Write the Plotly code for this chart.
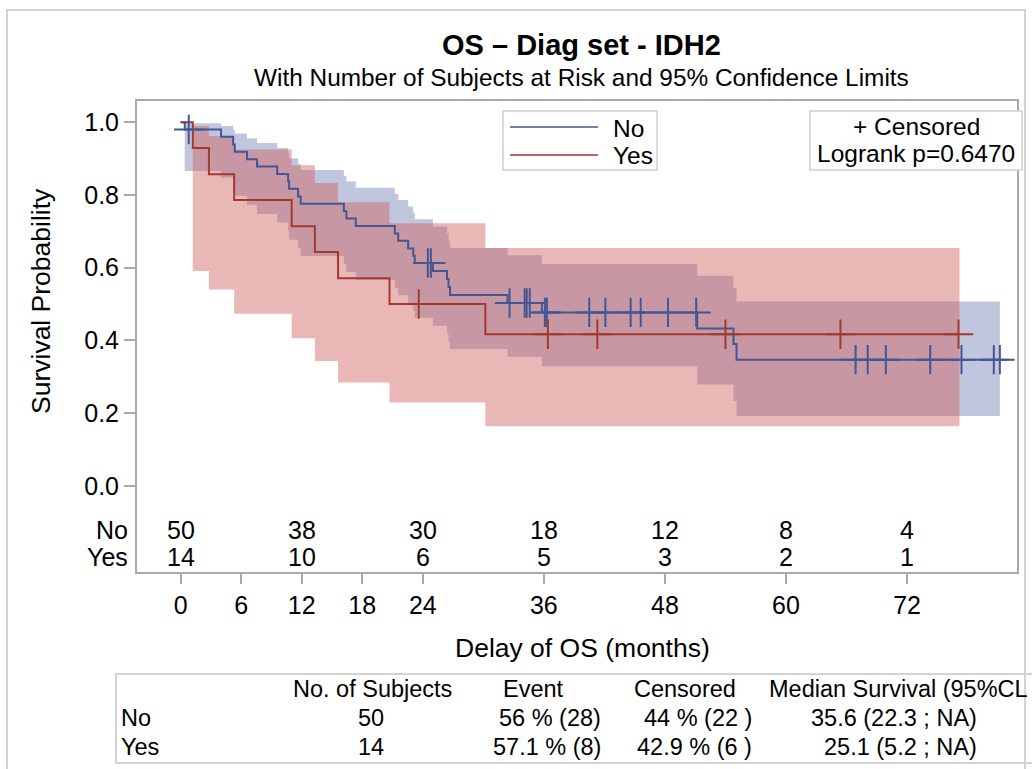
import plotly.graph_objects as go

# ---------------- data ----------------
# Kaplan-Meier step curve, group "No"
no_time = [0, 0.4, 4.0, 5.2, 5.36, 6.58, 7.57, 9.56, 10.65, 10.75, 11.64, 11.9, 16.17, 16.43,
           17.36, 21.23, 21.56, 22.55, 23.05, 23.2, 25.0, 26.4, 26.55, 26.7, 32.4, 35.8,
           51.2, 54.8, 55.1, 81.2]
no_surv = [1.0, 0.980, 0.960, 0.939, 0.919, 0.898, 0.878, 0.858, 0.837, 0.817, 0.796, 0.776,
           0.755, 0.735, 0.715, 0.694, 0.674, 0.653, 0.633, 0.613, 0.591, 0.569, 0.547, 0.525,
           0.503, 0.477, 0.433, 0.390, 0.347, 0.347]
# 95% confidence band, group "No"
no_band_time = [0.4, 4.0, 5.2, 5.36, 6.58, 7.57, 9.56, 10.65, 10.75, 11.64, 11.9, 16.17, 16.43,
                17.36, 21.23, 21.56, 22.55, 23.05, 23.2, 25.0, 26.4, 26.55, 26.7, 32.4, 35.8,
                51.2, 54.8, 55.1, 81.2]
no_lcl = [0.866, 0.848, 0.823, 0.798, 0.773, 0.748, 0.724, 0.700, 0.677, 0.654, 0.632, 0.610,
          0.588, 0.566, 0.545, 0.524, 0.503, 0.482, 0.462, 0.440, 0.418, 0.397, 0.376, 0.355,
          0.329, 0.279, 0.233, 0.192, 0.192]
no_ucl = [0.997, 0.990, 0.980, 0.969, 0.956, 0.943, 0.929, 0.915, 0.900, 0.885, 0.869, 0.853,
          0.837, 0.820, 0.803, 0.786, 0.768, 0.751, 0.733, 0.713, 0.694, 0.674, 0.654, 0.634,
          0.610, 0.578, 0.544, 0.507, 0.507]
# censored observations, group "No"
no_cens_time = [0.8, 24.5, 24.8, 32.6, 34.1, 34.3, 34.6, 36.1, 36.3, 40.5, 42.1, 44.6, 45.6,
                48.3, 51.1, 66.9, 68.1, 69.9, 74.3, 77.4, 80.6, 81.2]
no_cens_surv = [0.980, 0.613, 0.613, 0.503, 0.503, 0.503, 0.503, 0.477, 0.477, 0.477, 0.477,
                0.477, 0.477, 0.477, 0.477, 0.347, 0.347, 0.347, 0.347, 0.347, 0.347, 0.347]

# Kaplan-Meier step curve, group "Yes"
yes_time = [0, 1.2, 2.8, 5.3, 11.0, 13.3, 15.6, 20.7, 30.2, 77.1]
yes_surv = [1.0, 0.929, 0.857, 0.786, 0.714, 0.643, 0.571, 0.500, 0.417, 0.417]
yes_band_time = [1.2, 2.8, 5.3, 11.0, 13.3, 15.6, 20.7, 30.2, 77.2]
yes_lcl = [0.591, 0.540, 0.473, 0.406, 0.343, 0.284, 0.229, 0.164, 0.164]
yes_ucl = [0.990, 0.962, 0.925, 0.882, 0.833, 0.780, 0.722, 0.654, 0.654]
yes_cens_time = [23.6, 36.4, 41.3, 54.0, 65.4, 77.1]
yes_cens_surv = [0.500, 0.417, 0.417, 0.417, 0.417, 0.417]

# numbers at risk
risk_times = [0, 12, 24, 36, 48, 60, 72]
risk_no = [50, 38, 30, 18, 12, 8, 4]
risk_yes = [14, 10, 6, 5, 3, 2, 1]

# axis ticks
x_ticks = [0, 6, 12, 18, 24, 36, 48, 60, 72]
y_ticks = [0.0, 0.2, 0.4, 0.6, 0.8, 1.0]

# summary table
group_names = ["No", "Yes"]
table_header = ["No. of Subjects", "Event", "Censored", "Median Survival (95%CL"]
tab_subjects = ["50", "14"]
tab_event = ["56 % (28)", "57.1 % (8)"]
tab_censored = ["44 % (22 )", "42.9 % (6 )"]
tab_median = ["35.6 (22.3 ; NA)", "25.1 (5.2 ; NA)"]

title_text = "OS \u2013 Diag set - IDH2"
subtitle_text = "With Number of Subjects at Risk and 95% Confidence Limits"
logrank_text = "Logrank p=0.6470"

# ---------------- styling ----------------
W, H = 1032, 769
L, R, T, B = 137, 1017, 101, 572          # plot frame in pixels
FONT = "Liberation Sans, Arial, sans-serif"
BLUE = "#445694"
RED = "#A23A2E"
BLUE_FILL = "rgba(111,126,179,0.44)"
RED_FILL = "rgba(208,91,91,0.44)"
FRAME = "#A7AAAD"
BOXLINE = "#CFCFCF"
TICK_FS = 25
RISK_FS = 25
LEG_FS = 24.5
TAB_FS = 23.5


def px(x):
    return (x - L) / (R - L)


def py(y):
    return (B - y) / (B - T)


fig = go.Figure()

# confidence bands
for bt, lo, hi, fc in [(no_band_time, no_lcl, no_ucl, BLUE_FILL),
                       (yes_band_time, yes_lcl, yes_ucl, RED_FILL)]:
    fig.add_trace(go.Scatter(x=bt, y=lo, mode="lines", line=dict(width=0, shape="hv"),
                             hoverinfo="skip", showlegend=False))
    fig.add_trace(go.Scatter(x=bt, y=hi, mode="lines", line=dict(width=0, shape="hv"),
                             fill="tonexty", fillcolor=fc, hoverinfo="skip", showlegend=False))

# survival step curves
fig.add_trace(go.Scatter(x=no_time, y=no_surv, mode="lines", name="No",
                         line=dict(color=BLUE, width=2, shape="hv"), showlegend=False))
fig.add_trace(go.Scatter(x=yes_time, y=yes_surv, mode="lines", name="Yes",
                         line=dict(color=RED, width=2, shape="hv"), showlegend=False))

# censor marks
fig.add_trace(go.Scatter(x=no_cens_time, y=no_cens_surv, mode="markers", showlegend=False,
                         marker=dict(symbol="cross-thin", size=21, color=BLUE,
                                     line=dict(color=BLUE, width=2))))
fig.add_trace(go.Scatter(x=yes_cens_time, y=yes_cens_surv, mode="markers", showlegend=False,
                         marker=dict(symbol="cross-thin", size=21, color=RED,
                                     line=dict(color=RED, width=2))))

annotations = []
# numbers at risk
for row_vals, yv in [(risk_no, -0.122), (risk_yes, -0.197)]:
    for t, v in zip(risk_times, row_vals):
        annotations.append(dict(x=t, y=yv, xref="x", yref="y", text=str(v), showarrow=False,
                                font=dict(size=RISK_FS, color="black", family=FONT),
                                xanchor="center", yanchor="middle"))
for name, yv in zip(group_names, [-0.122, -0.197]):
    annotations.append(dict(x=px(130), y=yv, xref="paper", yref="y", text=name, showarrow=False,
                            font=dict(size=RISK_FS, color="black", family=FONT),
                            xanchor="right", yanchor="middle"))

# titles
annotations.append(dict(x=px(581), y=py(45), xref="paper", yref="paper", text="<b>" + title_text + "</b>",
                        showarrow=False, font=dict(size=29, color="black", family=FONT),
                        xanchor="center", yanchor="middle"))
annotations.append(dict(x=px(581), y=py(77), xref="paper", yref="paper", text=subtitle_text,
                        showarrow=False, font=dict(size=24.4, color="black", family=FONT),
                        xanchor="center", yanchor="middle"))
annotations.append(dict(x=px(582), y=py(648), xref="paper", yref="paper", text="Delay of OS (months)",
                        showarrow=False, font=dict(size=26.5, color="black", family=FONT),
                        xanchor="center", yanchor="middle"))
annotations.append(dict(x=px(41), y=py(301), xref="paper", yref="paper", text="Survival Probability",
                        showarrow=False, textangle=-90, font=dict(size=26.5, color="black", family=FONT),
                        xanchor="center", yanchor="middle"))

# legend (drawn inside the frame)
annotations.append(dict(x=px(611), y=py(128), xref="paper", yref="paper", text="No", showarrow=False,
                        font=dict(size=LEG_FS, color="black", family=FONT), xanchor="left", yanchor="middle"))
annotations.append(dict(x=px(611), y=py(155), xref="paper", yref="paper", text="Yes", showarrow=False,
                        font=dict(size=LEG_FS, color="black", family=FONT), xanchor="left", yanchor="middle"))
annotations.append(dict(x=px(916), y=py(126), xref="paper", yref="paper", text="+ Censored",
                        showarrow=False, font=dict(size=LEG_FS, color="black", family=FONT),
                        xanchor="center", yanchor="middle"))
annotations.append(dict(x=px(916), y=py(153), xref="paper", yref="paper", text=logrank_text,
                        showarrow=False, font=dict(size=LEG_FS, color="black", family=FONT),
                        xanchor="center", yanchor="middle"))

# summary table text
hdr_x = [372, 533, 685, 767]
hdr_anchor = ["center", "center", "center", "left"]
for txt, x, a in zip(table_header, hdr_x, hdr_anchor):
    annotations.append(dict(x=px(x), y=py(689), xref="paper", yref="paper", text=txt, showarrow=False,
                            font=dict(size=TAB_FS, color="black", family=FONT), xanchor=a, yanchor="middle"))
row_y = [718, 747]
for i in range(2):
    cells = [(group_names[i], 119, "left"), (tab_subjects[i], 371, "center"),
             (tab_event[i], 603, "right"), (tab_censored[i], 754, "right"),
             (tab_median[i], 979, "right")]
    for txt, x, a in cells:
        annotations.append(dict(x=px(x), y=py(row_y[i]), xref="paper", yref="paper", text=txt,
                                showarrow=False, font=dict(size=TAB_FS, color="black", family=FONT),
                                xanchor=a, yanchor="middle"))

shapes = [
    # outer border of the graph
    dict(type="rect", xref="paper", yref="paper", x0=px(7), x1=px(1025), y0=py(790), y1=py(10),
         line=dict(color="#D3D3D3", width=2), layer="below"),
    # legend boxes
    dict(type="rect", xref="paper", yref="paper", x0=px(503), x1=px(657), y0=py(170), y1=py(111),
         line=dict(color=BOXLINE, width=1.5), fillcolor="white"),
    dict(type="rect", xref="paper", yref="paper", x0=px(810), x1=px(1022), y0=py(170), y1=py(111),
         line=dict(color=BOXLINE, width=1.5), fillcolor="white"),
    dict(type="line", xref="paper", yref="paper", x0=px(510), x1=px(598), y0=py(127), y1=py(127),
         line=dict(color=BLUE, width=1.5)),
    dict(type="line", xref="paper", yref="paper", x0=px(510), x1=px(598), y0=py(155), y1=py(155),
         line=dict(color=RED, width=1.5)),
    # table box
    dict(type="rect", xref="paper", yref="paper", x0=px(116), x1=px(1045), y0=py(763), y1=py(674),
         line=dict(color="#D3D3D3", width=2)),
]

fig.update_layout(
    width=W, height=H,
    margin=dict(l=L, r=W - R, t=T, b=H - B, pad=0),
    paper_bgcolor="white", plot_bgcolor="white",
    showlegend=False,
    font=dict(family=FONT, size=TICK_FS, color="black"),
    annotations=annotations,
    shapes=shapes,
    xaxis=dict(range=[-4.33, 82.9], tickvals=x_ticks, ticktext=[str(v) for v in x_ticks],
               showgrid=False, zeroline=False, showline=True, mirror=True, linecolor=FRAME,
               linewidth=2, ticks="outside", ticklen=10, tickwidth=2, tickcolor=FRAME,
               tickfont=dict(size=TICK_FS, family=FONT, color="black")),
    yaxis=dict(range=[-0.2371, 1.0585], tickvals=y_ticks, ticktext=["%.1f" % v for v in y_ticks],
               showgrid=False, zeroline=False, showline=True, mirror=True, linecolor=FRAME,
               linewidth=2, ticks="outside", ticklen=11, tickwidth=2, tickcolor=FRAME,
               tickfont=dict(size=TICK_FS, family=FONT, color="black")),
)

fig.write_html("out.html")
